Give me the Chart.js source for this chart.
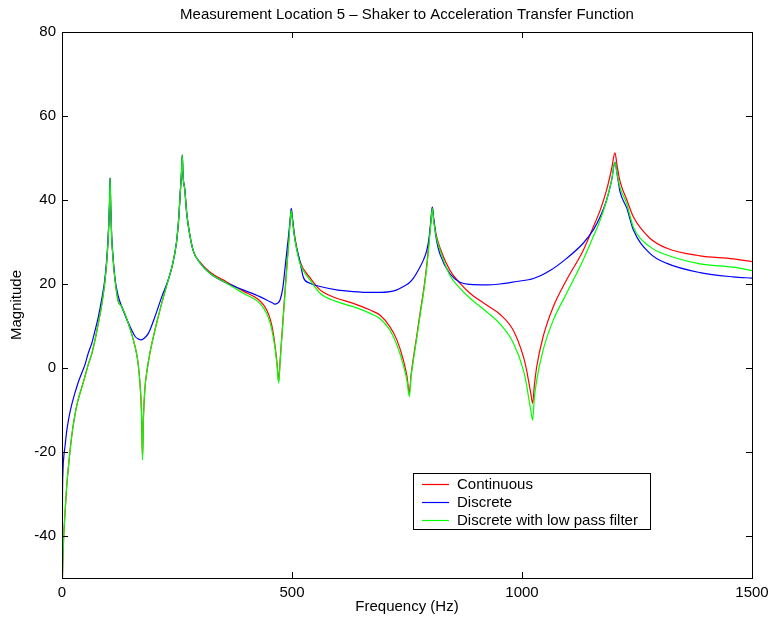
<!DOCTYPE html>
<html>
<head>
<meta charset="utf-8">
<title>Shaker to Acceleration Transfer Function</title>
<script src="https://cdn.jsdelivr.net/npm/chart.js@4/dist/chart.umd.min.js"></script>
<style>
  html, body { margin: 0; padding: 0; background: #fff; }
  canvas { display: block; }
</style>
</head>
<body>
<canvas id="tfChart" width="769" height="620"></canvas>
<script>
// Transfer function magnitude, read per series as (frequency, magnitude) pairs
const titleText = 'Measurement Location 5 \u2013 Shaker to Acceleration Transfer Function';
const seriesLabels = ['Continuous', 'Discrete', 'Discrete with low pass filter'];
const seriesColors = ['#ff0000', '#0000ff', '#00ff00'];

const xTicks = [0, 500, 1000, 1500];
const yTicks = [-40, -20, 0, 20, 40, 60, 80];

// Continuous
const contFreq = [1, 3, 6.5, 10, 14, 21, 28, 35, 43, 50, 57, 65, 72, 79, 86, 93, 97, 100, 102, 103.5, 104.5, 106, 108, 111, 115, 122, 130, 144, 159, 165, 170, 173, 175, 177, 180, 185, 191, 202, 217, 231, 240, 249, 254, 257, 260, 261.5, 263, 267, 271, 275, 285, 300, 322, 358, 394, 430, 445, 453, 459, 464, 468, 471, 474, 477.5, 483, 488, 493, 497, 498.5, 501, 506.5, 517, 539, 561, 597, 633, 670, 691, 713, 728, 742, 750, 755, 759, 764, 771, 778, 786, 793, 799, 803, 805, 808, 814, 822, 843, 865, 887, 923, 952, 981, 1003, 1010, 1014, 1019, 1023, 1027, 1032, 1046, 1068, 1097, 1133, 1155, 1170, 1184, 1195, 1202, 1207, 1213, 1228, 1242, 1278, 1315, 1387, 1459, 1500];
const contMag = [-50, -42, -34.6, -28.5, -23.5, -16.3, -11.2, -7.6, -4.6, -2, 0.8, 3.5, 6.8, 10.7, 14.8, 20.3, 25, 30, 35, 40, 45.2, 38, 31, 26, 21.2, 16, 14.6, 10.7, 5, 1.5, -4.4, -11, -21.5, -12, -5.2, -0.5, 3.5, 9, 15.5, 21, 24.5, 30, 36, 41.6, 47, 50.7, 46, 42.4, 37, 33.6, 28, 25.2, 22.8, 20.5, 18.3, 16, 13.8, 11.5, 8.5, 4.5, 0.5, -3.2, 1.5, 7, 15.5, 23, 30.5, 36.5, 37.8, 35.5, 31, 25.5, 21.5, 18.6, 16.6, 15.4, 13.8, 12.6, 9.8, 6.7, 1.9, -2, -6, -1.5, 2.5, 7.5, 12.8, 18.5, 24.5, 31.5, 36.5, 38.3, 35.5, 31.5, 28.5, 23.3, 20.2, 17.8, 15, 12.8, 9, 2.7, -0.5, -2.9, -6, -8.4, -4, 0.3, 7.5, 14.6, 21, 28, 33.6, 37.6, 42.4, 47.5, 51.2, 48, 44.5, 40, 36, 30.9, 28.5, 26.7, 26, 25.3];

// Discrete
const discFreq = [0.5, 1, 2, 4, 6.5, 10, 14, 21, 28, 35, 43, 50, 57, 65, 72, 79, 86, 93, 97, 100, 102, 103.5, 104.5, 106, 108, 111, 115, 122, 130, 144, 159, 166, 172, 180, 188, 202, 217, 231, 240, 249, 254, 257, 260, 261.5, 263, 267, 271, 275, 285, 300, 322, 358, 394, 430, 445, 459, 463, 468, 474, 480, 485, 490, 494, 497, 498.5, 501, 506.5, 517, 525, 539, 561, 597, 633, 670, 691, 713, 728, 742, 755, 764, 778, 786, 793, 798, 802, 805, 808, 814, 822, 843, 865, 887, 923, 952, 988, 1025, 1061, 1097, 1133, 1155, 1170, 1184, 1195, 1202, 1207, 1213, 1228, 1242, 1278, 1315, 1387, 1459, 1500];
const discMag = [-50, -32, -25, -21, -18.7, -15.2, -12.4, -8.8, -6, -3.5, -1.2, 0.8, 3.5, 6, 9, 12.2, 16.2, 21, 25.5, 30.5, 35, 40, 45.2, 38, 31.5, 26.5, 21.5, 17.2, 14.6, 10.8, 7.5, 6.9, 6.7, 7.2, 8.3, 12.2, 17, 21, 24.5, 30, 36, 41.6, 47, 50.7, 46, 42.4, 37, 33.6, 28, 25, 22.5, 20.2, 18.6, 17, 16.2, 15.4, 15.2, 15.4, 16.2, 19, 24, 29, 33, 36.5, 38, 35.5, 30.5, 25.5, 21.5, 20.2, 19.4, 18.6, 18.2, 18, 18, 18.2, 18.6, 19.4, 20.3, 21.4, 24, 25.8, 28, 31, 35, 38.3, 35.5, 30.5, 27, 22.5, 20.4, 19.9, 19.8, 20, 20.6, 21.3, 23.2, 26.1, 29.7, 32.9, 36, 40, 44.8, 49, 46, 42, 38, 32.9, 27.3, 24.9, 22.7, 21.7, 21.4];

// Discrete with low pass filter
const filtFreq = [1, 3, 6.5, 10, 14, 21, 28, 35, 43, 50, 57, 65, 72, 79, 86, 93, 97, 100, 102, 103.5, 104.5, 106, 108, 111, 115, 122, 130, 144, 159, 165, 170, 173, 175, 177, 180, 185, 191, 202, 217, 231, 240, 249, 254, 257, 260, 261.5, 263, 267, 271, 275, 285, 300, 322, 358, 394, 430, 445, 453, 459, 464, 468, 471, 474, 477.5, 483, 488, 493, 497, 498.5, 501, 506.5, 517, 539, 561, 597, 633, 670, 691, 713, 728, 742, 750, 755, 759, 764, 771, 778, 786, 793, 799, 803, 805, 808, 814, 822, 843, 865, 887, 923, 952, 981, 1003, 1010, 1014, 1019, 1023, 1027, 1032, 1046, 1068, 1097, 1133, 1155, 1170, 1184, 1195, 1202, 1207, 1213, 1228, 1242, 1278, 1315, 1387, 1459, 1500];
const filtMag = [-50, -42, -34.6, -28.5, -23.5, -16.3, -11.2, -7.6, -4.6, -2, 0.8, 3.5, 6.8, 10.7, 14.8, 20.3, 25, 30, 35, 40, 45.2, 38, 31, 26, 21.2, 16, 14.6, 10.7, 5, 1.5, -4.4, -11, -21.9, -12, -5.2, -0.5, 3.5, 9, 15.5, 21, 24.5, 30, 36, 41.6, 47, 50.7, 46, 42.4, 37, 33.6, 28, 25, 22.5, 20.2, 17.8, 15.4, 13, 10.5, 7.5, 4, 0, -3.6, 1, 6.7, 15, 22.6, 30, 36.5, 37.5, 35, 30.5, 25, 21, 17.8, 15.8, 14.6, 13, 11.8, 9, 5.5, 0.7, -3, -6.8, -2, 1.9, 7, 12.2, 18, 24, 31, 36, 38, 35, 31, 28, 22.1, 19, 16.6, 13.4, 10.5, 6, -0.5, -4, -6.8, -10, -12.4, -7, -2.9, 4.3, 11.4, 17.8, 25.7, 31.3, 35.2, 40, 44.8, 49, 46, 43, 39, 33.6, 28.9, 26.9, 24.8, 24, 23.2];

const FONT = { family: '"Liberation Sans", Arial, Helvetica, sans-serif', size: 15 };

function toPoints(freq, mag) {
    return freq.map((f, i) => ({ x: f, y: mag[i] }));
}

// Box around the axes with inward ticks on all four sides, the title and the legend box
const framePlugin = {
    id: 'frame',
    afterDraw(chart) {
        const { ctx, chartArea: a, scales } = chart;
        const tick = 6;
        ctx.save();
        ctx.strokeStyle = '#000';
        ctx.lineWidth = 1;
        ctx.strokeRect(a.left + 0.5, a.top + 0.5, a.right - a.left, a.bottom - a.top);
        ctx.beginPath();
        xTicks.forEach(v => {
            const px = Math.round(scales.x.getPixelForValue(v)) + 0.5;
            ctx.moveTo(px, a.bottom); ctx.lineTo(px, a.bottom - tick);
            ctx.moveTo(px, a.top); ctx.lineTo(px, a.top + tick);
        });
        yTicks.forEach(v => {
            const py = Math.round(scales.y.getPixelForValue(v)) + 0.5;
            ctx.moveTo(a.left, py); ctx.lineTo(a.left + tick, py);
            ctx.moveTo(a.right, py); ctx.lineTo(a.right - tick, py);
        });
        ctx.stroke();

        // title over the plot
        ctx.fillStyle = '#000';
        ctx.font = `${FONT.size}px ${FONT.family}`;
        ctx.textAlign = 'center';
        ctx.textBaseline = 'middle';
        ctx.fillText(titleText, (a.left + a.right) / 2, 15);

        // legend in the lower right of the plot
        const lx = a.left + 351, ly = a.top + 441, lw = 237, lh = 56;
        ctx.fillStyle = '#fff';
        ctx.fillRect(lx, ly, lw, lh);
        ctx.strokeRect(lx + 0.5, ly + 0.5, lw, lh);
        ctx.textAlign = 'left';
        seriesLabels.forEach((label, i) => {
            const ry = ly + 11.5 + i * 18;
            ctx.strokeStyle = seriesColors[i];
            ctx.lineWidth = 1.2;
            ctx.beginPath();
            ctx.moveTo(lx + 9, ry); ctx.lineTo(lx + 36, ry);
            ctx.stroke();
            ctx.fillStyle = '#000';
            ctx.fillText(label, lx + 44, ry);
        });
        ctx.restore();
    }
};

const ctx = document.getElementById('tfChart').getContext('2d');
new Chart(ctx, {
    type: 'line',
    data: {
        datasets: [
            { label: seriesLabels[0], data: toPoints(contFreq, contMag), borderColor: seriesColors[0], order: 2 },
            { label: seriesLabels[1], data: toPoints(discFreq, discMag), borderColor: seriesColors[1], order: 1 },
            { label: seriesLabels[2], data: toPoints(filtFreq, filtMag), borderColor: seriesColors[2], order: 0 }
        ]
    },
    options: {
        responsive: false,
        animation: false,
        devicePixelRatio: 1,
        layout: { padding: { left: 0, right: 17, top: 32, bottom: 0 } },
        elements: {
            line: { borderWidth: 1.2, cubicInterpolationMode: 'monotone', fill: false },
            point: { radius: 0, hoverRadius: 0 }
        },
        plugins: {
            legend: { display: false },
            tooltip: { enabled: false },
            title: { display: false }
        },
        scales: {
            x: {
                type: 'linear',
                min: 0,
                max: 1500,
                grid: { display: false, drawTicks: false },
                border: { display: false },
                ticks: { color: '#000', font: FONT, padding: 6, maxRotation: 0, callback: v => String(v) },
                title: { display: true, text: 'Frequency (Hz)', color: '#000', font: FONT, padding: { top: 0, bottom: 4 } },
                afterBuildTicks: scale => { scale.ticks = xTicks.map(v => ({ value: v })); },
                afterFit: scale => {
                    scale.height = 42;
                    // end labels may hang past the plot edges; the layout padding covers them
                    scale.paddingLeft = 0;
                    scale.paddingRight = 0;
                }
            },
            y: {
                type: 'linear',
                min: -50,
                max: 80,
                grid: { display: false, drawTicks: false },
                border: { display: false },
                ticks: { color: '#000', font: FONT, padding: 6, callback: v => String(v) },
                title: { display: true, text: 'Magnitude', color: '#000', font: FONT, padding: { top: 8, bottom: 0 } },
                afterBuildTicks: scale => { scale.ticks = yTicks.map(v => ({ value: v })); },
                afterFit: scale => {
                    scale.width = 62;
                    scale.paddingTop = 0;
                    scale.paddingBottom = 0;
                }
            }
        }
    },
    plugins: [framePlugin]
});
</script>
</body>
</html>
